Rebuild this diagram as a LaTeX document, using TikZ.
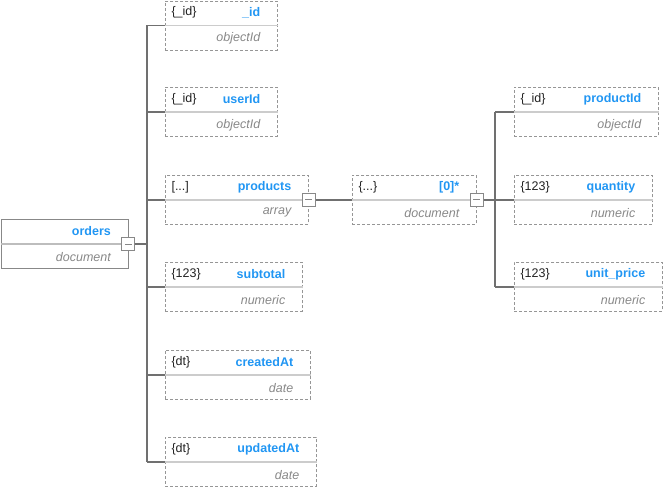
\documentclass[tikz,border=0pt]{standalone}
\usepackage{fontspec}
\setmainfont{Liberation Sans}
\usetikzlibrary{calc}

\definecolor{keyblue}{RGB}{33,150,243}
\definecolor{tagdark}{RGB}{34,34,34}
\definecolor{kindgray}{RGB}{136,136,136}
\definecolor{boxgray}{RGB}{150,150,150}
\definecolor{rulegray}{RGB}{204,204,204}
\definecolor{linkgray}{RGB}{112,112,112}

\tikzset{
  fieldbox/.style={draw=boxgray, dash pattern=on 3pt off 2pt, line width=0.8pt,
    minimum height=49pt, inner sep=0pt, anchor=north west},
  rootbox/.style={draw=kindgray, line width=0.9pt,
    minimum height=49pt, inner sep=0pt, anchor=north west},
  taglbl/.style={anchor=west, text=tagdark, font=\fontsize{12.5}{14}\selectfont},
  keylbl/.style={anchor=east, text=keyblue, font=\fontsize{12.5}{14}\selectfont\bfseries},
  kindlbl/.style={anchor=east, text=kindgray, font=\fontsize{12.5}{14}\selectfont\itshape},
  rule/.style={draw=rulegray, line width=1.3pt},
  link/.style={draw=linkgray, line width=1.4pt},
  linkthick/.style={draw=linkgray, line width=2.6pt},
  toggle/.style={draw=kindgray, fill=white, line width=0.9pt, minimum size=13pt,
    inner sep=0pt,
    path picture={\draw[kindgray, line width=0.9pt]
      ([xshift=3pt]path picture bounding box.west) --
      ([xshift=-3pt]path picture bounding box.east);}}
}

% field: name, position, width, tag, key, kind
\newcommand{\fieldnode}[6]{%
  \node[fieldbox, minimum width=#3pt] (#1) at (#2) {};
  \draw[rule] (#1.west) -- (#1.east);
  \node[taglbl] at ($(#1.north west)+(3,12)$) {#4};
  \node[keylbl] at ($(#1.north east)+(-14,12)$) {#5};
  \node[kindlbl] at ($(#1.south east)+(-14,-12)$) {#6};
}

\begin{document}
\begin{tikzpicture}[x=1pt,y=-1pt]
\useasboundingbox (0,0) rectangle (663,488);

% root
\node[rootbox, minimum width=127pt] (orders) at (0.5,219) {};
\draw[draw=rulegray!80!gray, line width=1.3pt] (orders.west) -- (orders.east);
\node[keylbl] at ($(orders.north east)+(-14,12)$) {orders};
\node[kindlbl] at ($(orders.south east)+(-14,-12)$) {document};

% first level fields
\fieldnode{fid}{165,0.5}{112}{\{\_id\}}{\_id}{objectId}
\fieldnode{fuser}{165,87}{112}{\{\_id\}}{userId}{objectId}
\fieldnode{fprod}{165,175}{143}{[...]}{products}{array}
\fieldnode{fsub}{165,262}{137}{\{123\}}{subtotal}{numeric}
\fieldnode{fcreated}{165,350}{145}{\{dt\}}{createdAt}{date}
\fieldnode{fupdated}{165,437}{151}{\{dt\}}{updatedAt}{date}

% array item
\fieldnode{fitem}{352,175}{124}{\{...\}}{[0]*}{document}

% item fields
\fieldnode{fpid}{514,87}{144}{\{\_id\}}{productId}{objectId}
\fieldnode{fqty}{514,175}{138}{\{123\}}{quantity}{numeric}
\fieldnode{fprice}{514,262}{148}{\{123\}}{unit\_price}{numeric}

% trunks
\coordinate (trunkA) at (147,0);
\coordinate (trunkB) at (495,0);

% connectors of the root
\draw[link] (fid.west -| trunkA) -- (fupdated.west -| trunkA);
\foreach \f in {fid,fuser,fprod,fsub,fcreated,fupdated}
  \draw[link] (\f.west -| trunkA) -- (\f.west);
\node[toggle] (torders) at (orders.east) {};
\draw[link] (torders.east) -- (torders.east -| trunkA);

% connector of the array
\node[toggle] (tprod) at (fprod.east) {};
\draw[linkthick] (tprod.east) -- (fitem.west);

% connectors of the item
\draw[link] (fpid.west -| trunkB) -- (fprice.west -| trunkB);
\foreach \f in {fpid,fqty,fprice}
  \draw[link] (\f.west -| trunkB) -- (\f.west);
\node[toggle] (titem) at (fitem.east) {};
\draw[link] (titem.east) -- (titem.east -| trunkB);

\end{tikzpicture}
\end{document}
